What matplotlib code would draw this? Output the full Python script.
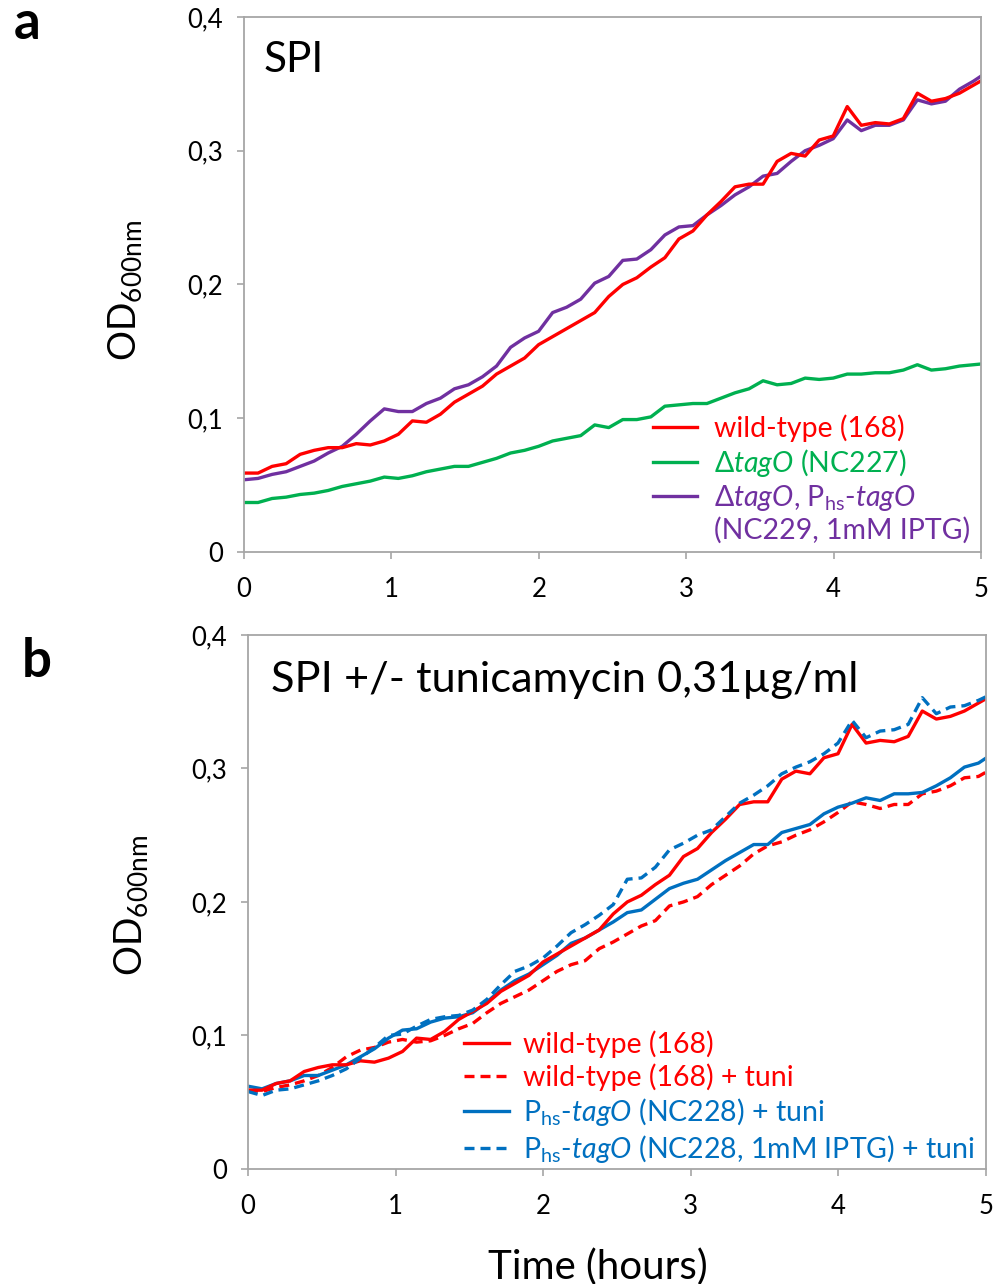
"""
Growth curves in SPI medium, OD600 over 5 h.
  a  wild-type, tagO deletion and the complemented strain
  b  wild-type and Phs-tagO with/without tunicamycin
"""

import numpy as np
import matplotlib.pyplot as plt
from matplotlib.lines import Line2D

plt.rcParams["font.family"] = ["Lato", "DejaVu Sans"]
plt.rcParams["mathtext.fontset"] = "custom"
plt.rcParams["mathtext.rm"] = "Lato"
plt.rcParams["mathtext.it"] = "Lato:italic"

# ── Data (OD600, one reading every ~5.7 min) ────────────────────────────────
SAMPLE_MIN = 5.71

wt_168 = [0.059, 0.059, 0.064, 0.066, 0.073, 0.076, 0.078, 0.078, 0.081, 0.080,
          0.083, 0.088, 0.098, 0.097, 0.103, 0.112, 0.118, 0.124, 0.133, 0.139,
          0.145, 0.155, 0.161, 0.167, 0.173, 0.179, 0.191, 0.200, 0.205, 0.213,
          0.220, 0.234, 0.240, 0.252, 0.262, 0.273, 0.275, 0.275, 0.292, 0.298,
          0.296, 0.308, 0.311, 0.333, 0.319, 0.321, 0.320, 0.324, 0.343, 0.337,
          0.339, 0.343, 0.349, 0.355]

dtago_nc227 = [0.037, 0.037, 0.040, 0.041, 0.043, 0.044, 0.046, 0.049, 0.051, 0.053,
               0.056, 0.055, 0.057, 0.060, 0.062, 0.064, 0.064, 0.067, 0.070, 0.074,
               0.076, 0.079, 0.083, 0.085, 0.087, 0.095, 0.093, 0.099, 0.099, 0.101,
               0.109, 0.110, 0.111, 0.111, 0.115, 0.119, 0.122, 0.128, 0.125, 0.126,
               0.130, 0.129, 0.130, 0.133, 0.133, 0.134, 0.134, 0.136, 0.140, 0.136,
               0.137, 0.139, 0.140, 0.141]

nc229_iptg = [0.054, 0.055, 0.058, 0.060, 0.064, 0.068, 0.074, 0.079, 0.088, 0.098,
              0.107, 0.105, 0.105, 0.111, 0.115, 0.122, 0.125, 0.131, 0.139, 0.153,
              0.160, 0.165, 0.179, 0.183, 0.189, 0.201, 0.206, 0.218, 0.219, 0.226,
              0.237, 0.243, 0.244, 0.252, 0.259, 0.267, 0.273, 0.281, 0.283, 0.292,
              0.300, 0.304, 0.309, 0.323, 0.315, 0.319, 0.319, 0.323, 0.338, 0.335,
              0.337, 0.346, 0.352, 0.359]

wt_tuni = [0.059, 0.058, 0.061, 0.063, 0.066, 0.070, 0.076, 0.084, 0.089, 0.091,
           0.095, 0.097, 0.095, 0.096, 0.100, 0.105, 0.109, 0.117, 0.124, 0.129,
           0.134, 0.141, 0.148, 0.153, 0.156, 0.165, 0.170, 0.176, 0.182, 0.186,
           0.197, 0.200, 0.204, 0.213, 0.220, 0.227, 0.236, 0.242, 0.245, 0.250,
           0.254, 0.260, 0.267, 0.275, 0.273, 0.270, 0.273, 0.273, 0.281, 0.283,
           0.287, 0.293, 0.294, 0.300]

nc228_tuni = [0.062, 0.060, 0.064, 0.066, 0.070, 0.070, 0.074, 0.078, 0.084, 0.090,
              0.098, 0.104, 0.105, 0.110, 0.113, 0.114, 0.117, 0.125, 0.134, 0.141,
              0.146, 0.153, 0.160, 0.169, 0.173, 0.179, 0.185, 0.192, 0.194, 0.202,
              0.210, 0.214, 0.217, 0.224, 0.231, 0.237, 0.243, 0.243, 0.252, 0.255,
              0.258, 0.266, 0.271, 0.274, 0.278, 0.276, 0.281, 0.281, 0.282, 0.287,
              0.293, 0.301, 0.304, 0.311]

nc228_iptg_tuni = [0.058, 0.055, 0.059, 0.060, 0.063, 0.066, 0.070, 0.075, 0.083, 0.091,
                   0.100, 0.101, 0.107, 0.112, 0.114, 0.115, 0.119, 0.127, 0.138, 0.148,
                   0.152, 0.158, 0.167, 0.177, 0.183, 0.190, 0.198, 0.217, 0.218, 0.226,
                   0.239, 0.244, 0.250, 0.254, 0.264, 0.274, 0.280, 0.287, 0.296, 0.301,
                   0.305, 0.311, 0.319, 0.336, 0.323, 0.328, 0.329, 0.333, 0.353, 0.341,
                   0.346, 0.347, 0.351, 0.356]

yticks = [0, 0.1, 0.2, 0.3, 0.4]
ytick_labels = ["0", "0,1", "0,2", "0,3", "0,4"]
xticks = [0, 1, 2, 3, 4, 5]

t_h = np.arange(len(wt_168)) * SAMPLE_MIN / 60

RED, GREEN, PURPLE, BLUE = "#ff0000", "#00b050", "#7030a0", "#0070c0"
GREY = "#a6a6a6"
LW = 2.4
DASH = (3.0, 1.8)
LEG_FS = 20.5

# ── Figure ──────────────────────────────────────────────────────────────────
fig = plt.figure(figsize=(9.96, 12.84), dpi=100)
ax_a = fig.add_axes([0.245, 0.5701, 0.740, 0.4167])
ax_b = fig.add_axes([0.249, 0.0896, 0.741, 0.4159])


def style_axes(ax):
    ax.set_xlim(0, 5)
    ax.set_ylim(0, 0.4)
    ax.set_xticks(xticks)
    ax.set_xticklabels([str(x) for x in xticks])
    ax.set_yticks(yticks)
    ax.set_yticklabels(ytick_labels)
    for sp in ax.spines.values():
        sp.set_color(GREY)
        sp.set_linewidth(1.3)
    ax.tick_params(direction="out", length=5, width=1.2, color=GREY,
                   labelsize=18.5, labelcolor="black")
    ax.tick_params(axis="y", pad=10)
    ax.tick_params(axis="x", pad=13)


# ════════════════════════════════════════════════════════════════════════════
# a – SPI
# ════════════════════════════════════════════════════════════════════════════
ax_a.plot(t_h, dtago_nc227, color=GREEN, lw=LW)
ax_a.plot(t_h, nc229_iptg, color=PURPLE, lw=LW)
ax_a.plot(t_h, wt_168, color=RED, lw=LW)
style_axes(ax_a)
ax_a.text(0.027, 0.897, "SPI", transform=ax_a.transAxes, fontsize=30.5,
          va="baseline", ha="left")

handles_a = [
    Line2D([], [], color=RED, lw=LW, label="wild-type (168)"),
    Line2D([], [], color=GREEN, lw=LW, label=r"$\Delta\mathit{tagO}$ (NC227)"),
    Line2D([], [], color=PURPLE, lw=LW,
           label=r"$\Delta\mathit{tagO}$, $\mathrm{P}_{\mathrm{hs}}$-$\mathit{tagO}$"),
    Line2D([], [], color=PURPLE, lw=0, label="(NC229, 1mM IPTG)"),
]
ax_a.legend(handles=handles_a, loc="upper left", bbox_to_anchor=(0.535, 0.283),
            frameon=False, fontsize=LEG_FS, labelcolor="linecolor", borderpad=0,
            handlelength=1.55, handletextpad=0.6, labelspacing=0.15)

# ════════════════════════════════════════════════════════════════════════════
# b – SPI +/- tunicamycin
# ════════════════════════════════════════════════════════════════════════════
ax_b.plot(t_h, wt_tuni, color=RED, lw=LW, dashes=DASH)
ax_b.plot(t_h, nc228_tuni, color=BLUE, lw=LW)
ax_b.plot(t_h, wt_168, color=RED, lw=LW)
ax_b.plot(t_h, nc228_iptg_tuni, color=BLUE, lw=LW, dashes=DASH)
style_axes(ax_b)
ax_b.text(0.031, 0.893, "SPI +/- tunicamycin 0,31µg/ml", transform=ax_b.transAxes,
          fontsize=31.2, va="baseline", ha="left")

handles_b = [
    Line2D([], [], color=RED, lw=LW, label="wild-type (168)"),
    Line2D([], [], color=RED, lw=LW, dashes=DASH, label="wild-type (168) + tuni"),
    Line2D([], [], color=BLUE, lw=LW,
           label=r"$\mathrm{P}_{\mathrm{hs}}$-$\mathit{tagO}$ (NC228) + tuni"),
    Line2D([], [], color=BLUE, lw=LW, dashes=DASH,
           label=r"$\mathrm{P}_{\mathrm{hs}}$-$\mathit{tagO}$ (NC228, 1mM IPTG) + tuni"),
]
ax_b.legend(handles=handles_b, loc="upper left", bbox_to_anchor=(0.274, 0.287),
            frameon=False, fontsize=LEG_FS, labelcolor="linecolor", borderpad=0,
            handlelength=1.55, handletextpad=0.5, labelspacing=0.19)

# ── Axis titles and panel letters ───────────────────────────────────────────
od_label = r"OD$_{\mathregular{600nm}}$"
fig.text(0.126, 0.774, od_label, rotation=90, ha="center", va="center", fontsize=27)
fig.text(0.132, 0.295, od_label, rotation=90, ha="center", va="center", fontsize=27)
fig.text(0.600, 0.013, "Time (hours)", ha="center", va="center", fontsize=29)

fig.text(0.027, 0.982, "a", ha="center", va="center", fontsize=38, fontweight="bold")
fig.text(0.037, 0.485, "b", ha="center", va="center", fontsize=38, fontweight="bold")

fig.savefig("out.png", dpi=100)
